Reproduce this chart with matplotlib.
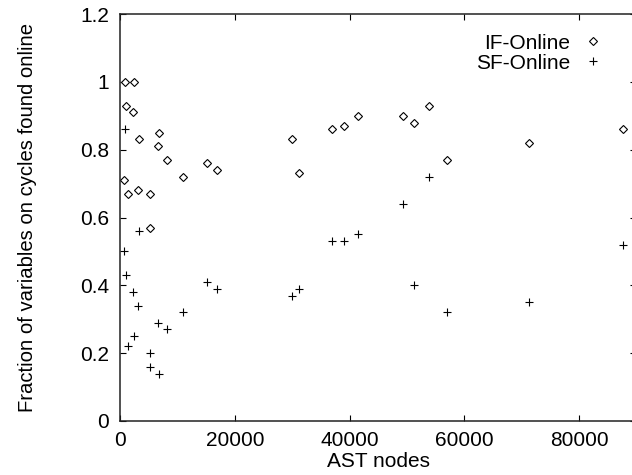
import matplotlib
matplotlib.use('Agg')
import matplotlib.pyplot as plt

# AST node counts per program (shared by both series)
ast_nodes = [700, 930, 1050, 1400, 2270, 2390, 3050, 3380, 5240, 5300,
             6580, 6760, 8150, 10950, 15200, 16830, 30000, 31270, 36920,
             38960, 41520, 49320, 51250, 53930, 57010, 71220, 87580]

if_online = [0.71, 1.00, 0.93, 0.67, 0.91, 1.00, 0.68, 0.83, 0.67, 0.57,
             0.81, 0.85, 0.77, 0.72, 0.76, 0.74, 0.83, 0.73, 0.86,
             0.87, 0.90, 0.90, 0.88, 0.93, 0.77, 0.82, 0.86]

sf_online = [0.50, 0.86, 0.43, 0.22, 0.38, 0.25, 0.34, 0.56, 0.16, 0.20,
             0.29, 0.14, 0.27, 0.32, 0.41, 0.39, 0.37, 0.39, 0.53,
             0.53, 0.55, 0.64, 0.40, 0.72, 0.32, 0.35, 0.52]

x_ticks = [0, 20000, 40000, 60000, 80000]
y_ticks = [0, 0.2, 0.4, 0.6, 0.8, 1.0, 1.2]
y_tick_labels = ['0', '0.2', '0.4', '0.6', '0.8', '1', '1.2']


def main():
    plt.rcParams['font.family'] = ['Liberation Sans', 'DejaVu Sans']
    fs = 15

    fig = plt.figure(figsize=(6.32, 4.75), dpi=100)
    # the right spine sits just past the figure edge, like the cropped original
    ax = fig.add_axes([0.1899, 0.1137, 0.8172, 0.8568])

    ax.plot(ast_nodes, if_online, linestyle='none', marker='D', markersize=3.6,
            markerfacecolor='white', markeredgecolor='black', markeredgewidth=0.8,
            label='IF-Online')
    ax.plot(ast_nodes, sf_online, linestyle='none', marker='+', markersize=5.5,
            color='black', markeredgewidth=0.8, label='SF-Online')

    ax.set_xlim(0, 90000)
    ax.set_ylim(0, 1.2)
    ax.set_xticks(x_ticks)
    ax.set_yticks(y_ticks)
    ax.set_yticklabels(y_tick_labels)

    ax.tick_params(direction='in', length=4.5, width=0.8, top=True, right=True,
                   labelsize=fs)
    ax.tick_params(axis='x', pad=7)
    ax.tick_params(axis='y', pad=8)
    for s in ax.spines.values():
        s.set_linewidth(1.1)
        s.set_color('#222222')

    ax.set_xlabel('AST nodes', fontsize=fs, labelpad=2)
    ax.set_ylabel('Fraction of variables on cycles found online', fontsize=14.6, labelpad=31)

    ax.legend(loc='upper right', bbox_to_anchor=(0.952, 0.972), frameon=False,
              markerfirst=False, handlelength=1.0, handletextpad=0.6,
              labelspacing=0.05, borderaxespad=0, fontsize=fs)

    fig.savefig('out.png', dpi=100)


if __name__ == "__main__":
    main()
